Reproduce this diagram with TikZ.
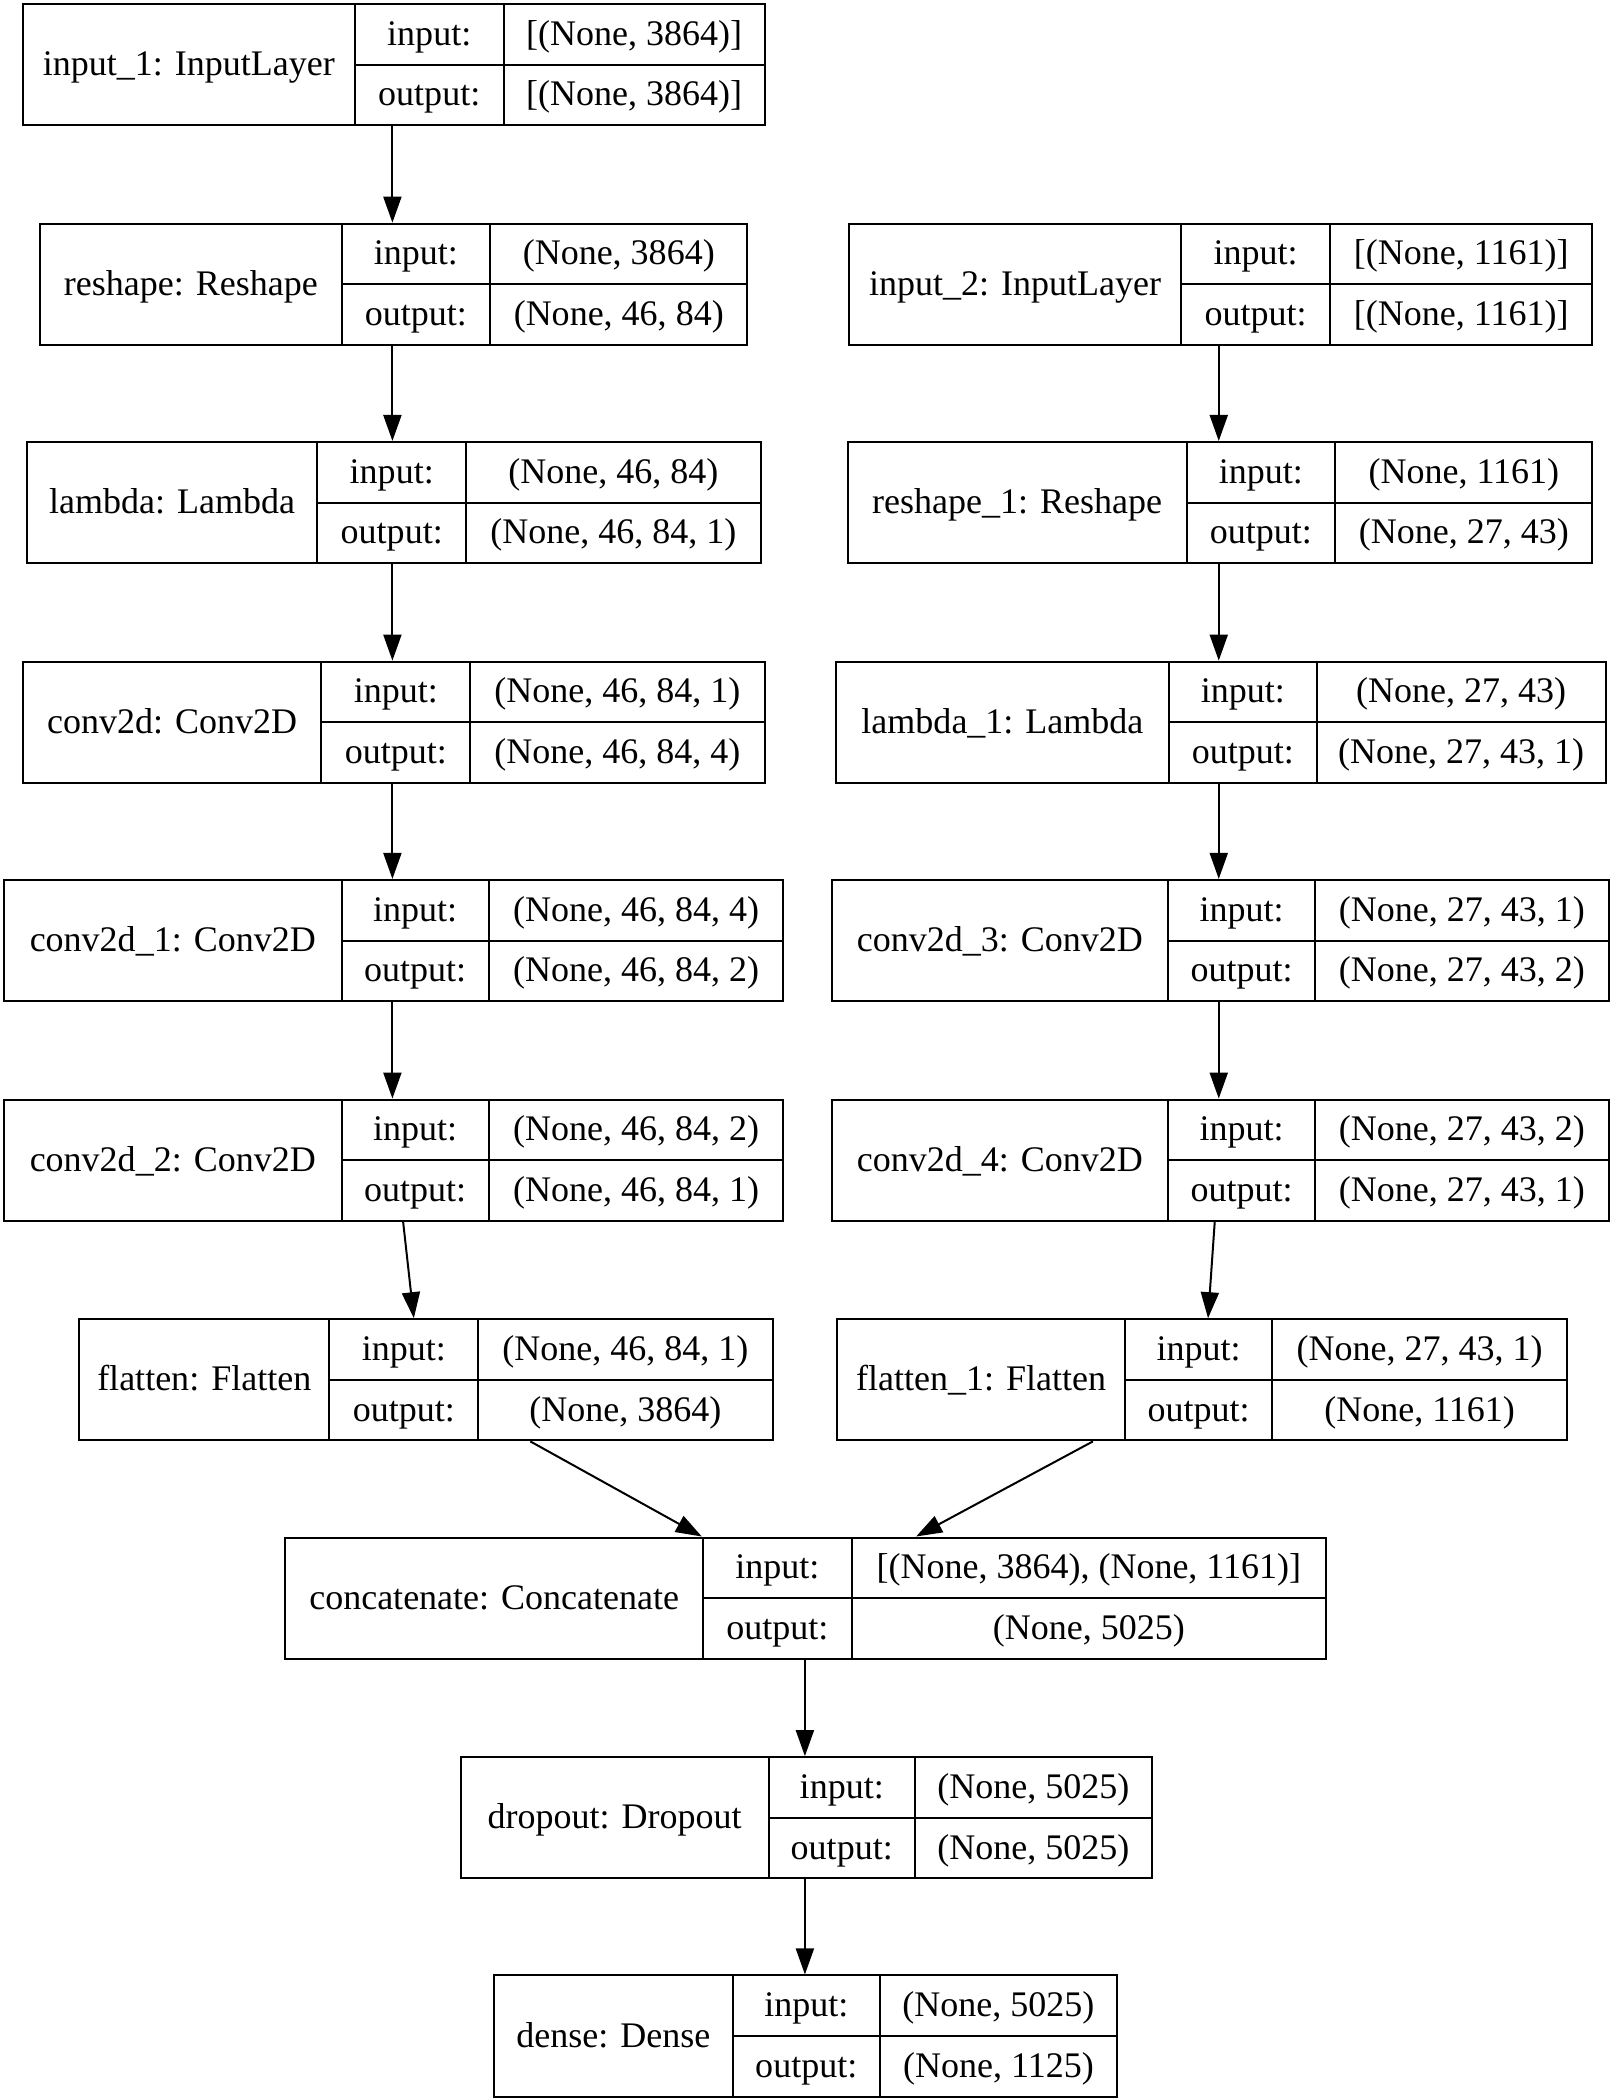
\documentclass[tikz,border=0pt]{standalone}
\usepackage{fontspec}
\setmainfont{Liberation Serif}
\usetikzlibrary{arrows.meta,fit}
\tikzset{
 box/.style={draw, line width=2pt, inner sep=0pt},
 div/.style={line width=2pt},
 txt/.style={font=\fontsize{36}{43}\selectfont, inner sep=0pt, text height=28pt, text depth=6pt},
 arr/.style={line width=2pt, -{Triangle[length=26pt,width=18pt]}},
}
\newcommand\layer[9]{%
 \pgfmathsetmacro\ya{#6}\pgfmathsetmacro\yb{#6+90.5}\pgfmathsetmacro\ym{#6+45.25}%
 \pgfmathsetmacro\yr{#6+22.6}\pgfmathsetmacro\ys{#6+67.9}%
 \node[box, fit={(#2,\ya) (#5,\yb)}] (#1) {};
 \draw[div] (#3,\ya) -- (#3,\yb);
 \draw[div] (#4,\ya) -- (#4,\yb);
 \draw[div] (#3,\ym) -- (#5,\ym);
 \node[txt] (#1-l) at ({(#2+#3)/2},\ym) {#7};
 \node[txt] (#1-ik) at ({(#3+#4)/2},\yr) {input:};
 \node[txt] (#1-ok) at ({(#3+#4)/2},\ys) {output:};
 \node[txt] (#1-iv) at ({(#4+#5)/2},\yr) {#8};
 \node[txt] (#1-ov) at ({(#4+#5)/2},\ys) {#9};
}
\begin{document}
\begin{tikzpicture}[x=1.3391pt, y=-1.3391pt]
\useasboundingbox[fill=white] (0,0) rectangle (1206,1568);
\layer{in1}{17}{265}{376}{571}{3}{input\_1: InputLayer}{[(None, 3864)]}{[(None, 3864)]}
\layer{rs}{30}{255}{366}{558}{167}{reshape: Reshape}{(None, 3864)}{(None, 46, 84)}
\layer{in2}{634}{882}{993}{1189}{167}{input\_2: InputLayer}{[(None, 1161)]}{[(None, 1161)]}
\layer{lam}{20}{237}{348}{568}{330}{lambda: Lambda}{(None, 46, 84)}{(None, 46, 84, 1)}
\layer{rsa}{633}{886}{997}{1189}{330}{reshape\_1: Reshape}{(None, 1161)}{(None, 27, 43)}
\layer{cv}{17}{240}{351}{571}{494}{conv2d: Conv2D}{(None, 46, 84, 1)}{(None, 46, 84, 4)}
\layer{lama}{624}{873}{983}{1199}{494}{lambda\_1: Lambda}{(None, 27, 43)}{(None, 27, 43, 1)}
\layer{cva}{3}{255}{365}{585}{657}{conv2d\_1: Conv2D}{(None, 46, 84, 4)}{(None, 46, 84, 2)}
\layer{cvc}{621}{872}{982}{1201}{657}{conv2d\_3: Conv2D}{(None, 27, 43, 1)}{(None, 27, 43, 2)}
\layer{cvb}{3}{255}{365}{585}{821}{conv2d\_2: Conv2D}{(None, 46, 84, 2)}{(None, 46, 84, 1)}
\layer{cvd}{621}{872}{982}{1201}{821}{conv2d\_4: Conv2D}{(None, 27, 43, 2)}{(None, 27, 43, 1)}
\layer{fl}{59}{246}{357}{577}{985}{flatten: Flatten}{(None, 46, 84, 1)}{(None, 3864)}
\layer{fla}{625}{840}{950}{1170}{985}{flatten\_1: Flatten}{(None, 27, 43, 1)}{(None, 1161)}
\layer{cat}{213}{525}{636}{990}{1148}{concatenate: Concatenate}{[(None, 3864), (None, 1161)]}{(None, 5025)}
\layer{dp}{344}{574}{683}{860}{1312}{dropout: Dropout}{(None, 5025)}{(None, 5025)}
\layer{dn}{369}{547}{657}{834}{1475}{dense: Dense}{(None, 5025)}{(None, 1125)}
% connectors
\draw[arr] (293,0 |- in1.south) -- (293,0 |- rs.north);
\draw[arr] (293,0 |- rs.south) -- (293,0 |- lam.north);
\draw[arr] (293,0 |- lam.south) -- (293,0 |- cv.north);
\draw[arr] (293,0 |- cv.south) -- (293,0 |- cva.north);
\draw[arr] (293,0 |- cva.south) -- (293,0 |- cvb.north);
\draw[arr] (301,0 |- cvb.south) -- (309,0 |- fl.north);
\draw[arr] (910,0 |- in2.south) -- (910,0 |- rsa.north);
\draw[arr] (910,0 |- rsa.south) -- (910,0 |- lama.north);
\draw[arr] (910,0 |- lama.south) -- (910,0 |- cvc.north);
\draw[arr] (910,0 |- cvc.south) -- (910,0 |- cvd.north);
\draw[arr] (907,0 |- cvd.south) -- (902,0 |- fla.north);
\draw[arr] (396,0 |- fl.south) -- (524,0 |- cat.north);
\draw[arr] (816,0 |- fla.south) -- (684,0 |- cat.north);
\draw[arr] (601,0 |- cat.south) -- (601,0 |- dp.north);
\draw[arr] (601,0 |- dp.south) -- (601,0 |- dn.north);
\end{tikzpicture}
\end{document}
